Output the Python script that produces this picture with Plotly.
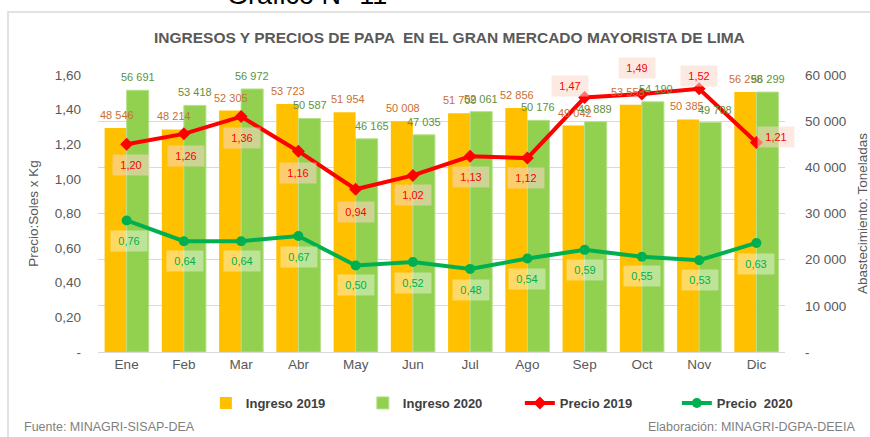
import plotly.graph_objects as go

months = ["Ene", "Feb", "Mar", "Abr", "May", "Jun", "Jul", "Ago", "Sep", "Oct", "Nov", "Dic"]
ingreso_2019 = [48546, 48214, 52305, 53723, 51954, 50008, 51709, 52856, 49042, 53553, 50385, 56298]
ingreso_2020 = [56691, 53418, 56972, 50587, 46165, 47035, 52061, 50176, 49889, 54190, 49708, 56299]
precio_2019 = [1.20, 1.26, 1.36, 1.16, 0.94, 1.02, 1.13, 1.12, 1.47, 1.49, 1.52, 1.21]
precio_2020 = [0.76, 0.64, 0.64, 0.67, 0.50, 0.52, 0.48, 0.54, 0.59, 0.55, 0.53, 0.63]

price_ticks = [0, 0.2, 0.4, 0.6, 0.8, 1.0, 1.2, 1.4, 1.6]
price_ticktext = ["-", "0,20", "0,40", "0,60", "0,80", "1,00", "1,20", "1,40", "1,60"]
ton_ticks = [0, 10000, 20000, 30000, 40000, 50000, 60000]
ton_ticktext = ["-", "10 000", "20 000", "30 000", "40 000", "50 000", "60 000"]

# label offsets (style) in px for price labels
red_off = [(4, -21), (2, -22), (1, -21), (0, -22), (0, -23), (0, -20), (1, -21), (-1, -20),
           (-15, 12), (-5, 26), (0, 13), (20, 6)]
green_off = [(2, -21), (1, -20), (1, -20), (1, -21), (0, -20), (0, -21), (1, -21), (0, -20),
             (0, -20), (0, -19), (1, -20), (0, -21)]
# bar label horizontal offsets (style), px
bar19_dx = [-10, -10, -10, -10, -8, -10, -10, -10, -10, -14, -12, -10]
bar20_dx = [11, 11, 11, 12, 16, 11, 11, 11, 10, 14, 16, 12]

GRAY = "#595959"
FONT = "Liberation Sans, Arial, sans-serif"

fig = go.Figure()
fig.add_trace(go.Bar(
    x=months, y=ingreso_2019, name="Ingreso 2019", marker=dict(color="#FFC000", line=dict(width=0)),
    yaxis="y"))
fig.add_trace(go.Bar(
    x=months, y=ingreso_2020, name="Ingreso 2020",
    marker=dict(color="#92D050", line=dict(width=1, color="#B5E08A")),
    yaxis="y"))
fig.add_trace(go.Scatter(
    x=months, y=precio_2019, name="Precio 2019", mode="lines+markers",
    line=dict(color="#FF0000", width=4), marker=dict(symbol="diamond", size=10, color="#FF0000"),
    yaxis="y2", cliponaxis=False))
fig.add_trace(go.Scatter(
    x=months, y=precio_2020, name="Precio  2020", mode="lines+markers",
    line=dict(color="#00B050", width=4), marker=dict(symbol="circle", size=10, color="#00B050"),
    yaxis="y2", cliponaxis=False))

annotations = []
for m, v, dx in zip(months, ingreso_2019, bar19_dx):
    annotations.append(dict(
        x=m, y=v, xref="x", yref="y", text=f"{v:,}".replace(",", " "), showarrow=False,
        xshift=dx, yshift=5, yanchor="bottom",
        font=dict(color="#CB6E32", size=11, family=FONT)))
for m, v, dx in zip(months, ingreso_2020, bar20_dx):
    annotations.append(dict(
        x=m, y=v, xref="x", yref="y", text=f"{v:,}".replace(",", " "), showarrow=False,
        xshift=dx, yshift=5, yanchor="bottom",
        font=dict(color="#5E9140", size=11, family=FONT)))
for m, v, (dx, dy) in zip(months, precio_2019, red_off):
    annotations.append(dict(
        x=m, y=v, xref="x", yref="y2", text=f"{v:.2f}".replace(".", ","), showarrow=False,
        xshift=dx, yshift=dy, font=dict(color="#FF0000", size=11, family=FONT),
        bgcolor="rgba(250,215,200,0.55)", width=34, height=18))
for m, v, (dx, dy) in zip(months, precio_2020, green_off):
    annotations.append(dict(
        x=m, y=v, xref="x", yref="y2", text=f"{v:.2f}".replace(".", ","), showarrow=False,
        xshift=dx, yshift=dy, font=dict(color="#00B050", size=11, family=FONT),
        bgcolor="rgba(255,255,255,0.4)", width=34, height=18))

annotations += [
    dict(text="<b>INGRESOS Y PRECIOS DE PAPA  EN EL GRAN MERCADO MAYORISTA DE LIMA</b>",
         xref="paper", yref="paper", x=0.512, y=1, yshift=38, yanchor="middle", showarrow=False,
         font=dict(size=15.5, color=GRAY, family=FONT)),
    dict(text="Gráfico N° 11", xref="paper", yref="paper", x=0.304, y=1, yshift=80,
         xanchor="center", yanchor="middle", showarrow=False,
         font=dict(size=27, color="#000000", family=FONT)),
    dict(text="Fuente: MINAGRI-SISAP-DEA", xref="paper", yref="paper", x=-0.111, y=0,
         yshift=-75, xanchor="left", yanchor="middle", showarrow=False,
         font=dict(size=12.5, color="#7F7F7F", family=FONT)),
    dict(text="Elaboración: MINAGRI-DGPA-DEEIA", xref="paper", yref="paper", x=1.105, y=0,
         yshift=-75, xanchor="right", yanchor="middle", showarrow=False,
         font=dict(size=12.5, color="#7F7F7F", family=FONT)),
]

fig.update_layout(
    width=870, height=437,
    margin=dict(l=98, r=85, t=75, b=85, autoexpand=False),
    paper_bgcolor="white", plot_bgcolor="white",
    separators=", ",
    barmode="group", bargap=0.23, bargroupgap=0,
    font=dict(family=FONT, color=GRAY),
    xaxis=dict(range=[-0.5, 11.5], showgrid=False, showline=True, linecolor="#D9D9D9", linewidth=1,
               ticks="", tickfont=dict(size=13.5, color=GRAY), automargin=False),
    yaxis=dict(side="right", range=[0, 60000], tickvals=ton_ticks, ticktext=ton_ticktext,
               showgrid=True, gridcolor="#D9D9D9", zeroline=False, ticks="",
               tickfont=dict(size=13.5, color=GRAY), automargin=False, ticklabelstandoff=19,
               title=dict(text="Abastecimiento: Toneladas", font=dict(size=13.5, color=GRAY), standoff=27)),
    yaxis2=dict(side="left", overlaying="y", range=[0, 1.6], tickvals=price_ticks,
                ticktext=price_ticktext, showgrid=False, zeroline=False, ticks="",
                tickfont=dict(size=13.5, color=GRAY), automargin=False, ticklabelstandoff=16,
                title=dict(text="Precio:Soles x Kg", font=dict(size=13.5, color=GRAY), standoff=12)),
    legend=dict(orientation="h", x=0.157, xanchor="left", y=-0.184, yanchor="middle",
                font=dict(size=13, color="#404040", family=FONT, weight="bold"),
                traceorder="normal", entrywidth=112, entrywidthmode="pixels"),
    annotations=annotations,
    shapes=[dict(type="rect", xref="paper", yref="paper", x0=-0.131, x1=1.2, y0=-0.5, y1=1.227,
                 line=dict(color="#D9D9D9", width=1.5), fillcolor="rgba(0,0,0,0)", layer="below")],
)

fig.write_html("out.html", config={"displayModeBar": False},
               post_script="document.body.style.margin='0';document.body.style.overflow='hidden';")
